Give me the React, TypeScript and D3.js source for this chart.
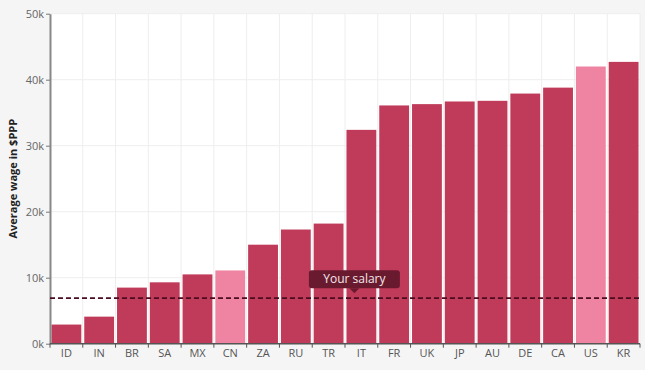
import React, { useEffect, useRef } from 'react'
import * as d3 from 'd3'

const countries = ['ID', 'IN', 'BR', 'SA', 'MX', 'CN', 'ZA', 'RU', 'TR', 'IT', 'FR', 'UK', 'JP', 'AU', 'DE', 'CA', 'US', 'KR']
const wages = [2.9, 4.1, 8.5, 9.3, 10.5, 11.1, 15.0, 17.3, 18.2, 32.4, 36.1, 36.3, 36.7, 36.8, 37.9, 38.8, 42.0, 42.7]
const highlighted = ['CN', 'US']
const yTicks = [0, 10, 20, 30, 40, 50]
const yourSalary = 6.9

export default function App() {
  const svgRef = useRef<SVGSVGElement>(null)

  useEffect(() => {
    if (!svgRef.current) return
    const svg = d3.select(svgRef.current)
    svg.selectAll('*').remove()

    const W = 645
    const H = 370
    const margin = { top: 13.7, right: 5, bottom: 26.3, left: 50 }
    const width = W - margin.left - margin.right
    const height = H - margin.top - margin.bottom

    svg.append('rect').attr('width', W).attr('height', H).attr('fill', '#f5f5f5')

    const g = svg.append('g').attr('transform', `translate(${margin.left},${margin.top})`)

    const x = d3.scaleBand().domain(countries).range([0, width]).paddingInner(0.09).paddingOuter(0.045)
    const y = d3.scaleLinear().domain([0, 50]).range([height, 0])

    g.append('rect').attr('width', width).attr('height', height).attr('fill', '#fff')

    // grid
    const step = x.step()
    g.selectAll('.vgrid')
      .data(d3.range(countries.length + 1))
      .join('line')
      .attr('x1', (i) => i * step)
      .attr('x2', (i) => i * step)
      .attr('y1', 0)
      .attr('y2', height)
      .attr('stroke', '#eeeeee')
    g.selectAll('.hgrid')
      .data(yTicks)
      .join('line')
      .attr('x1', 0)
      .attr('x2', width)
      .attr('y1', (d) => y(d))
      .attr('y2', (d) => y(d))
      .attr('stroke', '#eeeeee')

    // bars
    g.selectAll('.bar')
      .data(countries)
      .join('rect')
      .attr('x', (d) => x(d)!)
      .attr('width', x.bandwidth())
      .attr('y', (d, i) => y(wages[i]))
      .attr('height', (d, i) => height - y(wages[i]))
      .attr('fill', (d) => (highlighted.includes(d) ? '#ee84a2' : '#c03b5a'))

    // y axis
    const yAxis = g.append('g').call(
      d3.axisLeft(y).tickValues(yTicks).tickFormat((d) => `${d}k`).tickSize(4).tickSizeOuter(0)
    )
    yAxis.select('.domain').attr('stroke', '#888').attr('stroke-width', 2)
    yAxis.selectAll('.tick line').attr('stroke', '#777')
    yAxis.selectAll('.tick text')
      .attr('fill', '#666')
      .attr('x', -6)
      .style('font-size', '11px')
      .style('font-family', '"Open Sans", sans-serif')

    // x axis
    const xAxis = g.append('g').attr('transform', `translate(0,${height})`)
    xAxis.append('line').attr('x1', 0).attr('x2', width).attr('stroke', '#555').attr('stroke-width', 1.5)
    xAxis.selectAll('.xt')
      .data(d3.range(countries.length + 1))
      .join('line')
      .attr('x1', (i) => i * step)
      .attr('x2', (i) => i * step)
      .attr('y1', 0)
      .attr('y2', 4)
      .attr('stroke', '#555')
    xAxis.selectAll('.xl')
      .data(countries)
      .join('text')
      .attr('x', (d) => x(d)! + x.bandwidth() / 2)
      .attr('y', 13)
      .attr('text-anchor', 'middle')
      .attr('fill', '#555')
      .style('font-size', '11px')
      .style('font-family', '"Open Sans", sans-serif')
      .text((d) => d)

    // y label
    svg.append('text')
      .attr('transform', `translate(17,${margin.top + height / 2}) rotate(-90)`)
      .attr('text-anchor', 'middle')
      .attr('fill', '#222')
      .style('font-size', '11px')
      .style('font-weight', '700')
      .style('font-family', '"Open Sans", sans-serif')
      .text('Average wage in $PPP')

    // your salary line
    const sy = y(yourSalary)
    g.append('line')
      .attr('x1', 0)
      .attr('x2', width)
      .attr('y1', sy)
      .attr('y2', sy)
      .attr('stroke', '#4a0c1f')
      .attr('stroke-width', 1.6)
      .attr('stroke-dasharray', '5,3')

    // tooltip
    const cx = x('IT')! + x.bandwidth() / 2 - 7
    const tw = 91
    const th = 18
    const ty = sy - 28
    const tip = g.append('g')
    tip.append('rect')
      .attr('x', cx - tw / 2)
      .attr('y', ty)
      .attr('width', tw)
      .attr('height', th)
      .attr('rx', 3)
      .attr('fill', '#6a1a2f')
    tip.append('path')
      .attr('d', `M${cx - 5},${ty + th} L${cx},${ty + th + 5} L${cx + 5},${ty + th} Z`)
      .attr('fill', '#6a1a2f')
    tip.append('text')
      .attr('x', cx)
      .attr('y', ty + 13)
      .attr('text-anchor', 'middle')
      .attr('fill', '#f4e6ea')
      .style('font-size', '12px')
      .style('font-family', '"Open Sans", sans-serif')
      .text('Your salary')
  }, [])

  return (
    <div style={{ position: 'fixed', left: 0, top: 0 }}>
      <svg ref={svgRef} width={645} height={370} style={{ display: 'block' }} />
    </div>
  )
}
